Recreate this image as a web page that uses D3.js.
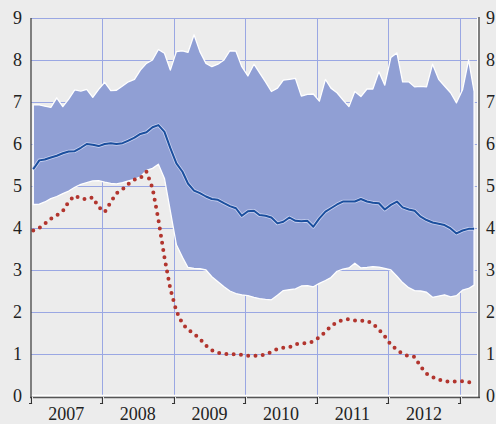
<!DOCTYPE html>
<html>
<head>
<meta charset="utf-8">
<script src="https://cdn.jsdelivr.net/npm/d3@7.9.0/dist/d3.min.js"></script>
<style>
  html, body { margin: 0; padding: 0; background: #ececec; }
  svg { display: block; }
  text { font-family: "Liberation Serif", "DejaVu Serif", serif; font-size: 18px; fill: #222; }
</style>
</head>
<body>
<div id="chart"></div>
<script>
// monthly, Jan 2007 - Mar 2013
const startYear = 2007, startMonth = 0;
const upper = [6.93, 6.93, 6.9, 6.87, 7.1, 6.89, 7.07, 7.29, 7.26, 7.3, 7.11, 7.3,
  7.47, 7.27, 7.28, 7.38, 7.48, 7.54, 7.76, 7.92, 8.0, 8.25, 8.16, 7.76,
  8.2, 8.22, 8.18, 8.6, 8.2, 7.92, 7.84, 7.9, 8.0, 8.22, 8.21, 7.84,
  7.62, 7.9, 7.7, 7.48, 7.25, 7.33, 7.52, 7.54, 7.56, 7.14, 7.18, 7.19,
  7.02, 7.54, 7.33, 7.22, 7.05, 6.89, 7.25, 7.13, 7.31, 7.31, 7.72, 7.4,
  8.06, 8.17, 7.48, 7.48, 7.36, 7.37, 7.36, 7.9, 7.54, 7.38, 7.22, 6.98,
  7.29, 8.0, 7.25];
const lower = [4.56, 4.57, 4.62, 4.7, 4.75, 4.82, 4.88, 4.97, 5.04, 5.08, 5.12, 5.13,
  5.09, 5.06, 5.05, 5.08, 5.12, 5.16, 5.22, 5.37, 5.42, 5.52, 5.18, 4.4,
  3.6, 3.3, 3.06, 3.04, 3.03, 3.0, 2.84, 2.72, 2.6, 2.5, 2.44, 2.41,
  2.39, 2.35, 2.32, 2.3, 2.29, 2.4, 2.51, 2.53, 2.55, 2.62, 2.63, 2.6,
  2.68, 2.75, 2.82, 2.97, 3.02, 3.05, 3.16, 3.05, 3.06, 3.08, 3.07, 3.04,
  3.0, 2.85, 2.7, 2.58, 2.51, 2.5, 2.47, 2.35, 2.38, 2.41, 2.36, 2.39,
  2.52, 2.56, 2.64];
const median = [5.4, 5.61, 5.63, 5.68, 5.72, 5.78, 5.82, 5.83, 5.91, 6.0, 5.98, 5.95,
  6.0, 6.02, 6.0, 6.02, 6.08, 6.15, 6.24, 6.28, 6.4, 6.45, 6.29, 5.9,
  5.54, 5.34, 5.06, 4.89, 4.83, 4.75, 4.69, 4.67, 4.59, 4.52, 4.47, 4.29,
  4.4, 4.41, 4.31, 4.29, 4.25, 4.11, 4.15, 4.25, 4.17, 4.16, 4.17, 4.03,
  4.23, 4.39, 4.47, 4.56, 4.63, 4.63, 4.63, 4.69, 4.63, 4.6, 4.59, 4.44,
  4.55, 4.63, 4.49, 4.44, 4.41, 4.27, 4.19, 4.13, 4.1, 4.07, 3.99, 3.87,
  3.94, 3.98, 3.98];
const policy = [3.94, 4.0, 4.1, 4.22, 4.3, 4.4, 4.63, 4.77, 4.7, 4.68, 4.73, 4.5,
  4.38, 4.62, 4.83, 4.92, 5.05, 5.15, 5.19, 5.34, 4.95, 4.2, 3.3, 2.55,
  2.02, 1.72, 1.58, 1.48, 1.36, 1.2, 1.09, 1.03, 1.0, 1.0, 0.99, 0.98,
  0.96, 0.96, 0.96, 0.99, 1.05, 1.12, 1.15, 1.16, 1.23, 1.25, 1.26, 1.3,
  1.4, 1.53, 1.66, 1.76, 1.81, 1.83, 1.8, 1.79, 1.79, 1.72, 1.58, 1.42,
  1.22, 1.1, 1.0, 0.95, 0.93, 0.7, 0.53, 0.45, 0.39, 0.35, 0.34, 0.35,
  0.35, 0.33, 0.33];
const yTicks = [0, 1, 2, 3, 4, 5, 6, 7, 8, 9];
const years = [2007, 2008, 2009, 2010, 2011, 2012];

const W = 496, H = 424;
const pLeft = 31, pRight = 479, pTop = 18, pBottom = 396;

const rows = upper.map((u, i) => ({
  date: new Date(startYear, startMonth + i, 15),
  hi: u, lo: lower[i], med: median[i], pol: policy[i]
}));

const x = d3.scaleTime()
  .domain([new Date(2007, 0, 1), new Date(2013, 0, 1)])
  .range([30.5, 459.8]);
const y = d3.scaleLinear().domain([0, 9]).range([pBottom, pTop]);

const svg = d3.select('#chart').append('svg').attr('width', W).attr('height', H);
svg.append('rect').attr('width', W).attr('height', H).attr('fill', '#ececec');

// grid
const grid = svg.append('g').attr('stroke', '#9aa7e3').attr('stroke-width', 1);
grid.selectAll('line.h').data(yTicks.filter(d => d > 0)).enter().append('line')
  .attr('x1', pLeft).attr('x2', pRight - 2)
  .attr('y1', d => Math.round(y(d)) + 0.5).attr('y2', d => Math.round(y(d)) + 0.5);
const yearEdges = years.slice(1).concat([2013]).map(yr => new Date(yr, 0, 1));
grid.selectAll('line.v').data(yearEdges).enter().append('line')
  .attr('x1', d => Math.round(x(d)) + 0.5).attr('x2', d => Math.round(x(d)) + 0.5)
  .attr('y1', pTop).attr('y2', pBottom);

// band
const area = d3.area().x(d => x(d.date)).y0(d => y(d.lo)).y1(d => y(d.hi));
svg.append('path').datum(rows).attr('d', area)
  .attr('fill', '#909fd4').attr('stroke', '#fff').attr('stroke-width', 1.3)
  .attr('stroke-linejoin', 'round');

// median
const medLine = d3.line().x(d => x(d.date)).y(d => y(d.med));
svg.append('path').datum(rows).attr('d', medLine)
  .attr('fill', 'none').attr('stroke', '#c9d1f0').attr('stroke-width', 3.6)
  .attr('stroke-linejoin', 'round');
svg.append('path').datum(rows).attr('d', medLine)
  .attr('fill', 'none').attr('stroke', '#1b4f9e').attr('stroke-width', 2)
  .attr('stroke-linejoin', 'round');

// policy rate, dotted
const polLine = d3.line().x(d => x(d.date)).y(d => y(d.pol));
svg.append('path').datum(rows).attr('d', polLine)
  .attr('fill', 'none').attr('stroke', '#b2352e').attr('stroke-width', 4)
  .attr('stroke-linecap', 'round').attr('stroke-dasharray', '0,7.3');

// frame
svg.append('line').attr('x1', pLeft).attr('x2', pRight).attr('y1', 395.5).attr('y2', 395.5)
  .attr('stroke', '#fff').attr('stroke-width', 1.5);
svg.append('line').attr('x1', pLeft - 1).attr('x2', pRight + 1).attr('y1', 397.5).attr('y2', 397.5)
  .attr('stroke', '#555').attr('stroke-width', 1.3);
svg.append('line').attr('x1', pLeft).attr('x2', pLeft).attr('y1', pTop).attr('y2', 398)
  .attr('stroke', '#444').attr('stroke-width', 1.3);
svg.append('line').attr('x1', pRight - 1.5).attr('x2', pRight - 1.5).attr('y1', pTop).attr('y2', 396)
  .attr('stroke', '#fff').attr('stroke-width', 1);
svg.append('line').attr('x1', pRight).attr('x2', pRight).attr('y1', pTop - 1).attr('y2', 398)
  .attr('stroke', '#444').attr('stroke-width', 1.3);

// x ticks
const tickDates = years.map(yr => new Date(yr, 0, 1)).concat([new Date(2013, 0, 1)]);
const ticks = svg.append('g');
ticks.selectAll('path.w').data(tickDates).enter().append('path')
  .attr('d', d => { const t = Math.round(x(d)) + 1.5; return `M${t},397V403`; })
  .attr('stroke', '#fff').attr('stroke-width', 1).attr('fill', 'none');
ticks.selectAll('path.k').data(tickDates).enter().append('path')
  .attr('d', d => { const t = Math.round(x(d)) + 0.5; return `M${t},397V403.5H${t - 2.5}`; })
  .attr('stroke', '#333').attr('stroke-width', 1.2).attr('fill', 'none');

// labels
svg.append('g').selectAll('text').data(yTicks).enter().append('text')
  .attr('x', 22).attr('y', d => y(d)).attr('dy', '0.35em')
  .attr('text-anchor', 'end').text(d => d);
svg.append('g').selectAll('text').data(yTicks).enter().append('text')
  .attr('x', 486).attr('y', d => y(d)).attr('dy', '0.35em')
  .attr('text-anchor', 'start').text(d => d);
svg.append('g').selectAll('text').data(years).enter().append('text')
  .attr('x', d => (x(new Date(d, 0, 1)) + x(new Date(d + 1, 0, 1))) / 2)
  .attr('y', 420).attr('text-anchor', 'middle').text(d => d);
</script>
</body>
</html>
